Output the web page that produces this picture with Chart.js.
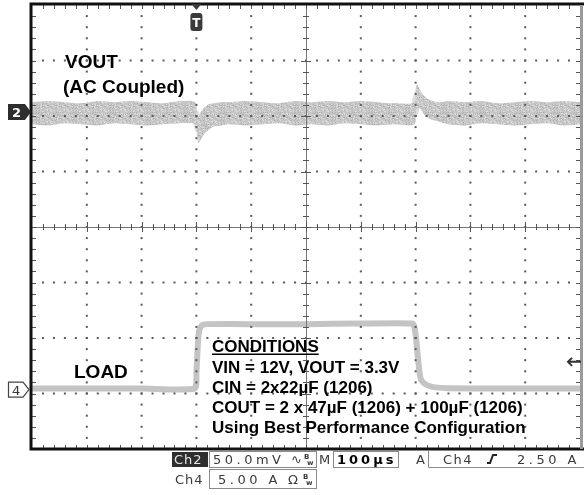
<!DOCTYPE html>
<html>
<head>
<meta charset="utf-8">
<script src="https://cdn.jsdelivr.net/npm/chart.js@4"></script>
<style>
  html, body { margin: 0; padding: 0; background: #fff; }
  #scope { display: block; }
</style>
</head>
<body>
<canvas id="scope" width="584" height="495"></canvas>
<script>
// Ch2 (VOUT, AC coupled) noise envelope, µs vs mV. t = 0 is the trigger on the load step.
const vTime = [-300, -270, -240, -210, -180, -150, -120, -90, -60, -30,
  -2, 1, 4, 8, 14, 22, 32, 45, 60,
  90, 120, 150, 180, 210, 240, 270, 300, 330, 360,
  398, 400, 402.5, 408, 417, 426, 444, 460,
  490, 520, 550, 580, 610, 640, 670, 700];
const vHigh = [9, 10, 9, 8, 10, 9, 10, 9, 8, 10,
  9, -2, -4, 0, 4, 7, 8, 9, 9,
  10, 9, 8, 10, 9, 10, 9, 10, 9, 8,
  9, 20, 25, 20, 14, 11, 9, 10,
  9, 10, 8, 9, 10, 9, 10, 9];
const vLow = [-11, -12, -10, -11, -12, -10, -11, -12, -11, -10,
  -11, -20, -28, -25, -20, -16, -13, -12, -11,
  -12, -11, -10, -12, -11, -12, -10, -11, -12, -11,
  -11, 0, 3, 3, -3, -6, -9, -11,
  -12, -10, -11, -12, -11, -10, -12, -11];
const vMid = [-1, -0.5, -1, -1.5, -1, -0.5, -1, -1.5, -1, -0.5,
  -1, -11, -16, -12, -8, -4.5, -2.5, -1.5, -1,
  -1, -0.5, -1, -1.5, -1, -0.5, -1, -1, -1.5, -1,
  -1, 10, 14, 11.5, 5.5, 2.5, 0, -1,
  -1, -1.5, -0.5, -1, -1, -0.5, -1.5, -1];

// Ch4 load current, µs vs A
const loadTime = [-300, -200, -100, -3, 0, 2, 4, 7, 12, 20, 100, 200, 300,
  394, 398, 401, 404, 407, 410, 416, 424, 436, 460, 550, 700];
const loadAmps = [0.1, 0.1, 0.1, 0.1, 1.5, 3.5, 5.0, 5.6, 5.85, 5.9, 5.9, 5.9, 5.95,
  5.95, 5.6, 4.5, 3.0, 1.6, 0.9, 0.55, 0.35, 0.2, 0.12, 0.1, 0.1];

// scope settings
const timeStart = -300, timeStop = 700;   // 100µs/div, 10 div
const ch2PerDiv = 50, ch2Pos = 2.07;      // mV/div, marker position in div
const ch4PerDiv = 5, ch4Pos = -2.93;      // A/div
const trigLevel = 2.5;                    // A

const conditions = [
  'VIN = 12V, VOUT = 3.3V',
  'CIN = 2x22µF (1206)',
  'COUT = 2 x 47µF (1206) + 100µF (1206)',
  'Using Best Performance Configuration'
];

const pts = (xs, ys) => xs.map((x, i) => ({ x, y: ys[i] }));
const bold = "bold 17px 'Liberation Sans', Arial, sans-serif";
const big = "bold 19px 'Liberation Sans', Arial, sans-serif";
const mono = "13px 'DejaVu Sans', sans-serif";

// grainy fill for the persistence trace
function traceTexture() {
  const w = 37, h = 29;
  const c = document.createElement('canvas');
  c.width = w; c.height = h;
  const g = c.getContext('2d');
  g.fillStyle = '#c6c6c6';
  g.fillRect(0, 0, w, h);
  for (let i = 0; i < w; i++) {
    for (let j = 0; j < h; j++) {
      const k = (i * i * 13 + j * j * 7 + i * j * 11 + i * 3) % 17;
      if (k < 3) { g.fillStyle = '#afafaf'; g.fillRect(i, j, 1, 1); }
      else if (k > 13) { g.fillStyle = '#dcdcdc'; g.fillRect(i, j, 1, 1); }
    }
  }
  return g.createPattern(c, 'repeat');
}

// graticule: dotted divisions, ticked centre cross and border
const graticule = {
  id: 'graticule',
  afterDatasetsDraw(chart) {
    const { ctx, chartArea: a } = chart;
    const dx = (a.right - a.left) / 10, dy = (a.bottom - a.top) / 8;
    const mx = dx / 5, my = dy / 5;
    const cx = a.left + 5 * dx, cy = a.top + 4 * dy;
    ctx.save();
    ctx.fillStyle = '#5a5a5a';
    for (let i = 1; i < 10; i++) {
      if (i === 5) continue;
      const x = a.left + i * dx;
      for (let j = 1; j < 40; j++) ctx.fillRect(x - 1, a.top + j * my - 1, 2, 2);
    }
    for (let j = 1; j < 8; j++) {
      if (j === 4) continue;
      const y = a.top + j * dy;
      for (let i = 1; i < 50; i++) ctx.fillRect(a.left + i * mx - 1, y - 1, 2, 2);
    }

    ctx.strokeStyle = '#777';
    ctx.lineWidth = 1;
    ctx.beginPath();
    ctx.moveTo(a.left, cy + 0.5); ctx.lineTo(a.right, cy + 0.5);
    ctx.moveTo(cx + 0.5, a.top); ctx.lineTo(cx + 0.5, a.bottom);
    ctx.stroke();

    ctx.strokeStyle = '#555';
    ctx.beginPath();
    for (let i = 1; i < 50; i++) {
      const x = Math.round(a.left + i * mx) + 0.5;
      const h = i % 5 === 0 ? 5 : 3;
      ctx.moveTo(x, cy - h); ctx.lineTo(x, cy + h);
      // top and bottom border ticks
      ctx.moveTo(x, a.top); ctx.lineTo(x, a.top + 4);
      ctx.moveTo(x, a.bottom - 4); ctx.lineTo(x, a.bottom);
    }
    for (let j = 1; j < 40; j++) {
      const y = Math.round(a.top + j * my) + 0.5;
      const h = j % 5 === 0 ? 5 : 3;
      ctx.moveTo(cx - h, y); ctx.lineTo(cx + h, y);
      ctx.moveTo(a.left, y); ctx.lineTo(a.left + 4, y);
      ctx.moveTo(a.right - 4, y); ctx.lineTo(a.right, y);
    }
    ctx.stroke();

    ctx.strokeStyle = '#111';
    ctx.lineWidth = 3;
    ctx.beginPath();
    ctx.moveTo(a.left - 1.5, a.top - 1); ctx.lineTo(584, a.top - 1);
    ctx.moveTo(a.left - 1, a.top - 2.5); ctx.lineTo(a.left - 1, a.bottom + 1.5);
    ctx.moveTo(a.left - 1.5, a.bottom); ctx.lineTo(584, a.bottom);
    ctx.stroke();
    ctx.strokeStyle = '#9a9a9a';
    ctx.beginPath();
    ctx.moveTo(a.right + 1.5, a.top); ctx.lineTo(a.right + 1.5, a.bottom);
    ctx.stroke();
    ctx.restore();
  }
};

// channel markers, trigger marks, annotations and the readout bar
const readout = {
  id: 'readout',
  afterDraw(chart) {
    const { ctx, chartArea: a, scales } = chart;
    ctx.save();
    ctx.textBaseline = 'alphabetic';

    // Ch2 marker (filled)
    const y2 = scales.yV.getPixelForValue(0);
    ctx.fillStyle = '#2e2e2e';
    ctx.beginPath();
    ctx.moveTo(8, y2 - 8); ctx.lineTo(25, y2 - 8); ctx.lineTo(31, y2);
    ctx.lineTo(25, y2 + 8); ctx.lineTo(8, y2 + 8); ctx.closePath(); ctx.fill();
    ctx.fillStyle = '#fff';
    ctx.font = "bold 13px 'DejaVu Sans', sans-serif";
    ctx.fillText('2', 12, y2 + 5);

    // Ch4 marker (outlined)
    const y4 = scales.yA.getPixelForValue(0);
    ctx.fillStyle = '#fff'; ctx.strokeStyle = '#444'; ctx.lineWidth = 1.2;
    ctx.beginPath();
    ctx.moveTo(8.5, y4 - 7.5); ctx.lineTo(23, y4 - 7.5); ctx.lineTo(29, y4);
    ctx.lineTo(23, y4 + 7.5); ctx.lineTo(8.5, y4 + 7.5); ctx.closePath();
    ctx.fill(); ctx.stroke();
    ctx.fillStyle = '#333';
    ctx.font = "13px 'DejaVu Sans', sans-serif";
    ctx.fillText('4', 12, y4 + 5);

    // trigger position
    const xt = scales.x.getPixelForValue(0);
    ctx.fillStyle = '#3a3a3a';
    ctx.beginPath();
    ctx.moveTo(xt - 5, a.top - 1); ctx.lineTo(xt + 5, a.top - 1); ctx.lineTo(xt, a.top + 5);
    ctx.closePath(); ctx.fill();
    ctx.beginPath();
    ctx.roundRect(xt - 6, a.top + 8, 12, 18, 3); ctx.fill();
    ctx.fillStyle = '#fff';
    ctx.font = "bold 12px 'DejaVu Sans', sans-serif";
    ctx.textAlign = 'center';
    ctx.fillText('T', xt, a.top + 22);
    ctx.textAlign = 'left';

    // trigger level
    const yl = scales.yA.getPixelForValue(trigLevel);
    ctx.strokeStyle = '#333'; ctx.lineWidth = 2;
    ctx.beginPath();
    ctx.moveTo(a.right - 12, yl); ctx.lineTo(a.right + 1, yl);
    ctx.moveTo(a.right - 8, yl - 4); ctx.lineTo(a.right - 12, yl); ctx.lineTo(a.right - 8, yl + 4);
    ctx.stroke();

    // annotations
    ctx.fillStyle = '#000';
    ctx.font = big;
    ctx.fillText('VOUT', 65, 68);
    ctx.fillText('(AC Coupled)', 63, 93);
    ctx.fillText('LOAD', 74, 378);
    ctx.font = bold;
    ctx.fillText('CONDITIONS', 212, 352);
    const w = ctx.measureText('CONDITIONS').width;
    ctx.fillRect(212, 353.5, w, 1.5);
    conditions.forEach((s, i) => ctx.fillText(s, 212, 372.5 + i * 20.3));

    // readout bar
    ctx.fillStyle = '#2e2e2e';
    ctx.fillRect(172, 452, 36, 15);
    ctx.font = mono;
    ctx.letterSpacing = '1px';
    ctx.fillStyle = '#e6e6e6';
    ctx.fillText('Ch2', 174, 464);
    ctx.fillStyle = '#3a3a3a';
    ctx.fillText('Ch4', 175, 484);

    ctx.strokeStyle = '#8a8a8a'; ctx.lineWidth = 1;
    ctx.strokeRect(209.5, 451.5, 107, 16);
    ctx.strokeRect(333.5, 451.5, 65, 16);
    ctx.strokeRect(209.5, 469.5, 107, 19);
    ctx.beginPath();
    ctx.moveTo(428.5, 451); ctx.lineTo(428.5, 467.5); ctx.lineTo(584, 467.5);
    ctx.stroke();

    ctx.letterSpacing = '3.5px';
    ctx.fillStyle = '#3a3a3a';
    ctx.fillText('50.0mV', 213, 464);
    ctx.fillText('5.00 A', 218, 484);
    ctx.letterSpacing = '0px';
    ctx.fillText('∿', 291, 464);
    ctx.fillText('Ω', 288, 484);
    // bandwidth limit glyphs
    ctx.font = "bold 7px 'DejaVu Sans', sans-serif";
    ctx.fillText('B', 304, 459); ctx.fillText('w', 307, 465);
    ctx.fillText('B', 303, 479); ctx.fillText('w', 306, 485);

    ctx.font = mono;
    ctx.fillText('M', 319, 464);
    ctx.fillText('A', 416, 464);
    ctx.letterSpacing = '1.5px';
    ctx.fillText('Ch4', 443, 464);
    ctx.letterSpacing = '3.5px';
    ctx.fillText('2.50 A', 517, 464);
    ctx.fillStyle = '#000';
    ctx.font = "bold 13px 'DejaVu Sans', sans-serif";
    ctx.letterSpacing = '3px';
    ctx.fillText('100µs', 337, 464);
    ctx.letterSpacing = '0px';

    // rising edge symbol
    ctx.strokeStyle = '#222'; ctx.lineWidth = 2;
    ctx.beginPath();
    ctx.moveTo(487, 463); ctx.lineTo(490, 463); ctx.lineTo(493, 455); ctx.lineTo(497, 455);
    ctx.stroke();
    ctx.restore();
  }
};

const grain = traceTexture();

new Chart(document.getElementById('scope'), {
  type: 'line',
  data: {
    datasets: [
      { data: pts(vTime, vHigh), yAxisID: 'yV', fill: '+1', backgroundColor: grain,
        borderWidth: 0, pointRadius: 0, tension: 0.3 },
      { data: pts(vTime, vLow), yAxisID: 'yV', fill: false,
        borderWidth: 0, pointRadius: 0, tension: 0.3 },
      { data: pts(vTime, vMid), yAxisID: 'yV', fill: false, borderColor: 'rgba(160,160,160,0.35)',
        borderWidth: 7, pointRadius: 0, tension: 0.3 },
      { data: pts(loadTime, loadAmps), yAxisID: 'yA', fill: false, borderColor: '#c4c4c4',
        borderWidth: 6, pointRadius: 0, tension: 0.2 },
      { data: pts(loadTime, loadAmps), yAxisID: 'yA', fill: false, borderColor: '#979797',
        borderWidth: 3, pointRadius: 0, tension: 0.2 }
    ]
  },
  options: {
    responsive: false,
    animation: false,
    devicePixelRatio: 1,
    layout: { padding: { left: 32, right: 4, top: 5, bottom: 46 } },
    plugins: { legend: { display: false }, tooltip: { enabled: false } },
    scales: {
      x: { type: 'linear', min: timeStart, max: timeStop, display: false },
      yV: { type: 'linear', min: (-4 - ch2Pos) * ch2PerDiv, max: (4 - ch2Pos) * ch2PerDiv, display: false },
      yA: { type: 'linear', min: (-4 - ch4Pos) * ch4PerDiv, max: (4 - ch4Pos) * ch4PerDiv, display: false }
    }
  },
  plugins: [graticule, readout]
});
</script>
</body>
</html>
